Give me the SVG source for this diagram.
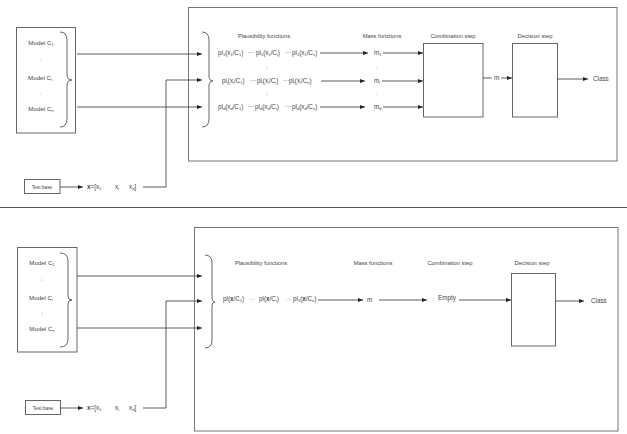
<svg xmlns="http://www.w3.org/2000/svg" width="627" height="434" viewBox="0 0 627 434">
<defs>
<marker id="ah" markerUnits="userSpaceOnUse" markerWidth="5" markerHeight="4" refX="5" refY="2" orient="auto"><path d="M0,0 L5,2 L0,4 z" fill="#222"/></marker>
<style>
.box{fill:none;stroke:#666;stroke-width:1}
.frame{fill:none;stroke:#777;stroke-width:1}
.br{fill:none;stroke:#555;stroke-width:0.9}
.ln{fill:none;stroke:#333;stroke-width:0.8}
.ar{fill:none;stroke:#333;stroke-width:0.8;marker-end:url(#ah)}
text{font-family:"Liberation Sans",Arial,sans-serif;fill:#444;opacity:0.99}
.h{font-size:5.8px;text-anchor:middle}
.t{font-size:6.3px}
.m{font-size:6.2px;text-anchor:middle}
.s{font-size:4px}
.d{font-size:5.5px;text-anchor:middle}
</style>
</defs>
<line x1="0" y1="207.5" x2="627" y2="207.5" stroke="#555" stroke-width="1"/>
<g id="top">
<rect id="frameTop" class="frame" x="188.5" y="7.5" width="428.5" height="153.5"/>
<g id="modelsTop">
<rect class="box" x="16.5" y="27.5" width="59" height="105.5"/>
<path class="br" d="M60,32 Q67,32 67,40 L67,75 Q67,80 72,80 Q67,80 67,85 L67,119 Q67,127 60,127"/>
<text class="m" x="41" y="45">Model C<tspan class="s" dy="1">1</tspan></text>
<text class="d" x="41" y="62">:</text>
<text class="m" x="40" y="80">Model C<tspan class="s" dy="1">i</tspan></text>
<text class="d" x="41" y="95">:</text>
<text class="m" x="41" y="111">Model C<tspan class="s" dy="1">n</tspan></text>
</g>
<g id="testTop">
<rect class="box" x="24.5" y="179.5" width="35.5" height="14"/>
<text x="42" y="188.5" style="font-size:4.8px;text-anchor:middle">Test base</text>
<text class="t" x="87" y="189"><tspan font-weight="bold">x</tspan>=[x<tspan class="s" dy="1">1</tspan><tspan dy="-1" x="115">x</tspan><tspan class="s" dy="1">i</tspan><tspan dy="-1" x="129">x</tspan><tspan class="s" dy="1">d</tspan><tspan dy="-1">]</tspan></text>
</g>
<g id="plTop">
<path class="br" d="M202,32 Q209,32 209,40 L209,76 Q209,81 213,81 Q209,81 209,86 L209,119 Q209,127 202,127"/>
<text class="h" x="264" y="38">Plausibility functions</text>
<text class="t" y="55"><tspan x="218">pl<tspan class="s" dy="1">1</tspan><tspan dy="-1">(x</tspan><tspan class="s" dy="1">1</tspan><tspan dy="-1">/C</tspan><tspan class="s" dy="1">1</tspan><tspan dy="-1">)</tspan></tspan><tspan x="248">···</tspan><tspan x="256">pl<tspan class="s" dy="1">1</tspan><tspan dy="-1">(x</tspan><tspan class="s" dy="1">1</tspan><tspan dy="-1">/C</tspan><tspan class="s" dy="1">i</tspan><tspan dy="-1">)</tspan></tspan><tspan x="285">···</tspan><tspan x="292">pl<tspan class="s" dy="1">1</tspan><tspan dy="-1">(x</tspan><tspan class="s" dy="1">1</tspan><tspan dy="-1">/C</tspan><tspan class="s" dy="1">n</tspan><tspan dy="-1">)</tspan></tspan></text>
<text class="d" x="267" y="69">:</text>
<text class="t" y="83"><tspan x="222">pl<tspan class="s" dy="1">i</tspan><tspan dy="-1">(x</tspan><tspan class="s" dy="1">i</tspan><tspan dy="-1">/C</tspan><tspan class="s" dy="1">1</tspan><tspan dy="-1">)</tspan></tspan><tspan x="250">···</tspan><tspan x="257">pl<tspan class="s" dy="1">i</tspan><tspan dy="-1">(x</tspan><tspan class="s" dy="1">i</tspan><tspan dy="-1">/C</tspan><tspan class="s" dy="1">i</tspan><tspan dy="-1">)</tspan></tspan><tspan x="283">···</tspan><tspan x="289">pl<tspan class="s" dy="1">i</tspan><tspan dy="-1">(x</tspan><tspan class="s" dy="1">i</tspan><tspan dy="-1">/C</tspan><tspan class="s" dy="1">n</tspan><tspan dy="-1">)</tspan></tspan></text>
<text class="d" x="267" y="96">:</text>
<text class="t" y="109"><tspan x="218">pl<tspan class="s" dy="1">d</tspan><tspan dy="-1">(x</tspan><tspan class="s" dy="1">d</tspan><tspan dy="-1">/C</tspan><tspan class="s" dy="1">1</tspan><tspan dy="-1">)</tspan></tspan><tspan x="248">···</tspan><tspan x="255">pl<tspan class="s" dy="1">d</tspan><tspan dy="-1">(x</tspan><tspan class="s" dy="1">d</tspan><tspan dy="-1">/C</tspan><tspan class="s" dy="1">i</tspan><tspan dy="-1">)</tspan></tspan><tspan x="285">···</tspan><tspan x="292">pl<tspan class="s" dy="1">d</tspan><tspan dy="-1">(x</tspan><tspan class="s" dy="1">d</tspan><tspan dy="-1">/C</tspan><tspan class="s" dy="1">n</tspan><tspan dy="-1">)</tspan></tspan></text>
</g>
<g id="massTop">
<text class="h" x="382" y="38">Mass functions</text>
<text class="t" x="374" y="55">m<tspan class="s" dy="1">1</tspan></text>
<text class="d" x="377" y="69">:</text>
<text class="t" x="374" y="83">m<tspan class="s" dy="1">i</tspan></text>
<text class="d" x="377" y="96">:</text>
<text class="t" x="374" y="109">m<tspan class="s" dy="1">d</tspan></text>
</g>
<g id="combTop">
<text class="h" x="453" y="38">Combination step</text>
<rect class="box" x="423.5" y="43.5" width="59.5" height="73.5"/>
</g>
<g id="mTop"><text class="t" x="494" y="80">m</text></g>
<g id="decTop">
<text class="h" x="535" y="38">Decision step</text>
<rect class="box" x="512.5" y="43.5" width="45" height="73.5"/>
</g>
<g id="classTop"><text class="t" x="593" y="81">Class</text></g>
</g>
<g id="bottom">
<rect id="frameBottom" class="frame" x="194.5" y="227.5" width="423.5" height="203.5"/>
<g id="modelsBottom">
<rect class="box" x="17.5" y="247.5" width="59.5" height="104.5"/>
<path class="br" d="M60,253 Q68,253 68,261 L68,296 Q68,300 72,300 Q68,300 68,304 L68,339 Q68,347 60,347"/>
<text class="m" x="42" y="265">Model C<tspan class="s" dy="1">1</tspan></text>
<text class="d" x="42" y="281">:</text>
<text class="m" x="41" y="300">Model C<tspan class="s" dy="1">i</tspan></text>
<text class="d" x="42" y="315">:</text>
<text class="m" x="42" y="331">Model C<tspan class="s" dy="1">n</tspan></text>
</g>
<g id="testBottom">
<rect class="box" x="25.5" y="400.5" width="35" height="14"/>
<text x="43" y="409.5" style="font-size:4.8px;text-anchor:middle">Test base</text>
<text class="t" x="87" y="410"><tspan font-weight="bold">x</tspan>=[x<tspan class="s" dy="1">1</tspan><tspan dy="-1" x="115">x</tspan><tspan class="s" dy="1">i</tspan><tspan dy="-1" x="129">x</tspan><tspan class="s" dy="1">d</tspan><tspan dy="-1">]</tspan></text>
</g>
<g id="plBottom">
<path class="br" d="M205,255 Q212,255 212,263 L212,297 Q212,302 215,302 Q212,302 212,307 L212,340 Q212,348 205,348"/>
<text class="h" x="261" y="265">Plausibility functions</text>
<text class="t" y="301"><tspan x="223">pl(<tspan font-weight="bold">x</tspan>/C<tspan class="s" dy="1">1</tspan><tspan dy="-1">)</tspan></tspan><tspan x="249" style="font-size:5px">···</tspan><tspan x="259">pl(<tspan font-weight="bold">x</tspan>/C<tspan class="s" dy="1">i</tspan><tspan dy="-1">)</tspan></tspan><tspan x="286" style="font-size:5px">···</tspan><tspan x="293">pl<tspan class="s" dy="1">1</tspan><tspan dy="-1">(</tspan><tspan font-weight="bold">x</tspan>/C<tspan class="s" dy="1">n</tspan><tspan dy="-1">)</tspan></tspan></text>
</g>
<g id="massBottom">
<text class="h" x="373" y="265">Mass functions</text>
<text class="t" x="367" y="302">m</text>
</g>
<g id="combBottom">
<text class="h" x="450" y="265">Combination step</text>
<text class="t" x="438" y="300">Empty</text>
</g>
<g id="decBottom">
<text class="h" x="532" y="265">Decision step</text>
<rect class="box" x="511.5" y="273.5" width="44" height="72.5"/>
</g>
<g id="classBottom"><text class="t" x="591" y="303">Class</text></g>
</g>
<g id="connectors">
<line class="ar" x1="77" y1="54" x2="202" y2="54"/>
<line class="ar" x1="77" y1="107" x2="202" y2="107"/>
<polyline class="ar" points="143,187 166,187 166,80 202,80"/>
<line class="ar" x1="60" y1="187" x2="83" y2="187"/>
<line class="ar" x1="320" y1="53" x2="368" y2="53"/>
<line class="ar" x1="321" y1="81" x2="365" y2="81"/>
<line class="ar" x1="320" y1="107" x2="365" y2="107"/>
<line class="ar" x1="383" y1="53" x2="423" y2="53"/>
<line class="ar" x1="382" y1="81" x2="423" y2="81"/>
<line class="ar" x1="383" y1="107" x2="423" y2="107"/>
<line class="ln" x1="483" y1="78" x2="492" y2="78"/>
<line class="ar" x1="501" y1="78" x2="512" y2="78"/>
<line class="ar" x1="557" y1="79" x2="588" y2="79"/>
<line class="ar" x1="77" y1="276" x2="202" y2="276"/>
<line class="ar" x1="77" y1="328" x2="202" y2="328"/>
<polyline class="ar" points="143,408 166,408 166,301 202,301"/>
<line class="ar" x1="60" y1="408" x2="83" y2="408"/>
<line class="ar" x1="318" y1="300" x2="363" y2="300"/>
<line class="ar" x1="379" y1="300" x2="427" y2="300"/>
<line class="ar" x1="459" y1="300" x2="511" y2="300"/>
<line class="ar" x1="555" y1="301" x2="584" y2="301"/>
</g>
</svg>
